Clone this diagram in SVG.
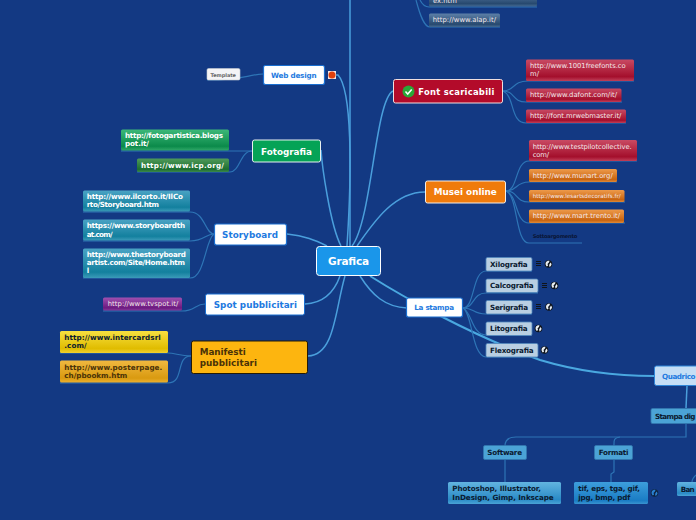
<svg xmlns="http://www.w3.org/2000/svg" width="696" height="520" viewBox="0 0 696 520">
<style>
text{font-family:"DejaVu Sans",sans-serif;font-weight:700}
.c1{fill:none;stroke:#4a9fdc;stroke-width:1.5}
.c2{fill:none;stroke:#2e75b6;stroke-width:1.2}
.c3{fill:none;stroke:#4aa8e0;stroke-width:2}
.url{font-size:6.8px;font-weight:400;fill:#f4e8ea}
.urlb{font-size:7.2px;fill:#fff}
.dark{font-size:7.2px;fill:#0a1a30}
.brn{font-size:7.2px;fill:#4a3208}
.blue{fill:#1e7ae0}
.w{fill:#fff;stroke:#1a6fd0;stroke-width:1.2}
.s{fill:#b9cfe2;stroke:#4f86bd;stroke-width:.8}
.b{fill:#4ba3d6;stroke:#3478b0;stroke-width:.8}
.li{stroke:#10151c;fill:none}
</style>
<defs>
<linearGradient id="r" x1="0" y1="0" x2="0" y2="1"><stop offset="0" stop-color="#c94a63"/><stop offset=".8" stop-color="#a40f2c"/><stop offset="1" stop-color="#c0405a"/></linearGradient>
<linearGradient id="o" x1="0" y1="0" x2="0" y2="1"><stop offset="0" stop-color="#ee9a4a"/><stop offset=".8" stop-color="#c9640f"/><stop offset="1" stop-color="#e08a3a"/></linearGradient>
<linearGradient id="g" x1="0" y1="0" x2="0" y2="1"><stop offset="0" stop-color="#3cb878"/><stop offset=".8" stop-color="#0b8a4a"/><stop offset="1" stop-color="#30a868"/></linearGradient>
<linearGradient id="dg" x1="0" y1="0" x2="0" y2="1"><stop offset="0" stop-color="#4f9a5a"/><stop offset=".8" stop-color="#1c6e30"/><stop offset="1" stop-color="#3c8a4c"/></linearGradient>
<linearGradient id="t" x1="0" y1="0" x2="0" y2="1"><stop offset="0" stop-color="#4aa3c4"/><stop offset=".8" stop-color="#13809e"/><stop offset="1" stop-color="#3b9ab8"/></linearGradient>
<linearGradient id="p" x1="0" y1="0" x2="0" y2="1"><stop offset="0" stop-color="#a050b0"/><stop offset=".8" stop-color="#6d1a80"/><stop offset="1" stop-color="#8a3a9a"/></linearGradient>
<linearGradient id="y" x1="0" y1="0" x2="0" y2="1"><stop offset="0" stop-color="#f7e040"/><stop offset=".8" stop-color="#e0bc00"/><stop offset="1" stop-color="#f0d030"/></linearGradient>
<linearGradient id="ye" x1="0" y1="0" x2="0" y2="1"><stop offset="0" stop-color="#f0b840"/><stop offset=".8" stop-color="#d99a10"/><stop offset="1" stop-color="#ecb030"/></linearGradient>
<linearGradient id="n" x1="0" y1="0" x2="0" y2="1"><stop offset="0" stop-color="#5d80a8"/><stop offset=".8" stop-color="#27496f"/><stop offset="1" stop-color="#446a92"/></linearGradient>
<linearGradient id="bb" x1="0" y1="0" x2="0" y2="1"><stop offset="0" stop-color="#62b4e0"/><stop offset=".8" stop-color="#2a8ac6"/><stop offset="1" stop-color="#4aa3d6"/></linearGradient>
<linearGradient id="bc" x1="0" y1="0" x2="0" y2="1"><stop offset="0" stop-color="#3d9edc"/><stop offset=".85" stop-color="#1a7cc4"/><stop offset="1" stop-color="#3a94d0"/></linearGradient>
<g id="gl"><circle r="3.800" fill="#10151c"/><path d="M-2.800-1.200C-2-3 0-3.400 1-3L.4-1.400-1 0-.4 1.400-1.600 2.600C-2.800 1.600-3.200 0-2.800-1.200zM2-1.600L3 0C3 1.400 2.200 2.400 1 3L.6 1 1.400-.4z" fill="#e8eef4"/></g>
<g id="glb"><circle r="3.800" fill="#0e2440"/><path d="M-2.800-1.200C-2-3 0-3.400 1-3L.4-1.400-1 0-.4 1.400-1.600 2.600C-2.800 1.600-3.200 0-2.800-1.200zM2-1.600L3 0C3 1.400 2.200 2.400 1 3L.6 1 1.400-.4z" fill="#2a80d0"/></g>
</defs>
<rect width="696" height="520" fill="#133983"/>
<g id="connectors">
<path class="c1" d="M350 246C350 180 350 90 350 0"/>
<path class="c1" d="M347 246C352 170 352 90 338 75H336"/>
<path class="c1" d="M352 246C372 220 375 100 393 91"/>
<path class="c1" d="M357 246C375 220 395 192 425 192"/>
<path class="c1" d="M341 246C330 225 322 165 321 150"/>
<path class="c1" d="M327 246C315 240 305 236 287 234"/>
<path class="c1" d="M340 276C335 290 325 303 305 304"/>
<path class="c1" d="M345 276C335 310 335 355 308 356"/>
<path class="c1" d="M360 276C372 295 385 307 407 308"/>
<path class="c3" d="M370 276C400 295 470 335 540 360C590 375 630 376 654 376"/>
<path class="c2" d="M263 74C245 75 245 80 207 80"/>
<path class="c2" d="M252 151H121"/>
<path class="c2" d="M252 151C240 151 240 172 230 172H137"/>
<path class="c2" d="M214 234C205 234 205 212 190 212H83"/>
<path class="c2" d="M214 234C205 234 205 241 190 241H83"/>
<path class="c2" d="M214 234C205 240 205 278 190 278H83"/>
<path class="c2" d="M205 304C195 304 195 311 182 311H103"/>
<path class="c2" d="M191 356C180 356 175 353 168 353H60"/>
<path class="c2" d="M191 356C175 356 185 383 168 383H60"/>
<path class="c2" d="M503 91C515 91 512 81 528 81H634"/>
<path class="c2" d="M503 91C515 91 512 102 526 102H622"/>
<path class="c2" d="M503 91C515 96 510 123 526 123H626"/>
<path class="c2" d="M506 191C518 191 515 161 529 161H637"/>
<path class="c2" d="M506 191C518 191 515 182 529 182H617"/>
<path class="c2" d="M506 191C518 191 515 202 529 202H625"/>
<path class="c2" d="M506 191C518 195 515 223 529 223H625"/>
<path class="c2" d="M506 191C518 195 515 243 529 243H582"/>
<path class="c2" d="M463 308C475 308 472 271 486 271H532"/>
<path class="c2" d="M463 308C475 308 472 293 486 293H538"/>
<path class="c2" d="M463 308C475 308 472 314 486 314H532"/>
<path class="c2" d="M463 308C472 312 472 335 486 335H532"/>
<path class="c2" d="M463 308C472 312 472 357 486 357H538"/>
<path class="c2" d="M420 0C422 4 424 7 429 7H537"/>
<path class="c2" d="M416 0C420 15 424 27 430 27H500"/>
<path class="c1" d="M687 386L686 408"/>
<path class="c2" d="M686 424V437H516C508 437 505 440 505 446"/>
<path class="c2" d="M620 437C613 438 614 441 614 446"/>
<path class="c2" d="M505 460V482"/>
<path class="c2" d="M614 460V472L611 474V482"/>
<path class="c2" d="M696 475C693 478 692 480 692 482"/>
</g>
<g id="n-grafica"><rect x="316.500" y="246.500" width="64" height="29" rx="3" fill="#1a96ea" stroke="#fff"/><text x="328" y="265" font-size="10.500" fill="#fff" textLength="41">Grafica</text></g>
<g id="n-web"><rect x="263.500" y="65.500" width="61" height="19" rx="2" class="w"/><text x="271" y="78" font-size="7.200" class="blue" textLength="45.500">Web design</text></g>
<g id="n-webicon"><rect x="328" y="71" width="8" height="8" fill="#f4e4e0"/><circle cx="332" cy="75" r="3.500" fill="#e0400c"/></g>
<g id="n-template"><rect x="207" y="68.500" width="33" height="11.500" rx="1.500" fill="#f4f4f6" stroke="#c8ccd4" stroke-width=".6"/><text x="210.500" y="76.500" font-size="5" fill="#666" textLength="25.500">Template</text></g>
<g id="n-fotografia"><rect x="252.500" y="140" width="68" height="22" rx="2" fill="#05a356" stroke="#e8f0f0"/><text x="261" y="154.500" font-size="8.800" fill="#fff" textLength="51">Fotografia</text></g>
<g id="n-foto1"><rect x="121" y="129.500" width="108" height="21" rx="1.500" fill="url(#g)"/><text class="urlb" x="125" y="137.700" textLength="98">http://fotogartistica.blogs</text><text class="urlb" x="125" y="146" textLength="24">pot.it/</text></g>
<g id="n-foto2"><rect x="137" y="158.500" width="92" height="13.500" rx="1.500" fill="url(#dg)"/><text class="urlb" x="141" y="167.700" textLength="83">http://www.icp.org/</text></g>
<g id="n-story"><rect x="214.500" y="224" width="72" height="21" rx="2" class="w"/><text x="222" y="238" font-size="8.800" class="blue" textLength="56">Storyboard</text></g>
<g id="n-story1"><rect x="83" y="190.500" width="107" height="21" rx="1.500" fill="url(#t)"/><text class="urlb" x="86.700" y="198.500" textLength="96.300">http://www.ilcorto.it/IlCo</text><text class="urlb" x="86.700" y="206.700" textLength="72.300">rto/Storyboard.htm</text></g>
<g id="n-story2"><rect x="83" y="219.500" width="107" height="21" rx="1.500" fill="url(#t)"/><text class="urlb" x="86.700" y="228" textLength="98.300">https://www.storyboardth</text><text class="urlb" x="86.700" y="236.700" textLength="26">at.com/</text></g>
<g id="n-story3"><rect x="83" y="248.500" width="107" height="29.500" rx="1.500" fill="url(#t)"/><text class="urlb" x="86.700" y="257" textLength="99.300">http://www.thestoryboard</text><text class="urlb" x="86.700" y="265" textLength="98.300">artist.com/Site/Home.htm</text><text class="urlb" x="86.700" y="272.700">l</text></g>
<g id="n-spot"><rect x="205.500" y="294" width="99" height="21" rx="2" fill="#fff" stroke="#1a6fd0" stroke-width="1"/><text x="213.700" y="308" font-size="8.800" class="blue" textLength="83.300">Spot pubblicitari</text></g>
<g id="n-tvspot"><rect x="103" y="297.500" width="79" height="13" rx="1.500" fill="url(#p)"/><text class="url" x="107.700" y="306" textLength="70.600">http://www.tvspot.it/</text></g>
<g id="n-manifesti"><rect x="191.500" y="341" width="116" height="32.500" rx="2" fill="#fdb50f" stroke="#231a05"/><text x="199.700" y="355" font-size="8.800" fill="#4a3208" textLength="46">Manifesti</text><text x="199.700" y="366" font-size="8.800" fill="#4a3208" textLength="57.300">pubblicitari</text></g>
<g id="n-man1"><rect x="60" y="331" width="108" height="22" rx="1.500" fill="url(#y)"/><text class="dark" x="64.300" y="340" textLength="96.400">http://www.intercardsrl</text><text class="dark" x="64.300" y="348.300" textLength="22.400">.com/</text></g>
<g id="n-man2"><rect x="60" y="360.500" width="108" height="22" rx="1.500" fill="url(#ye)"/><text class="brn" x="64.300" y="370" textLength="98">http://www.posterpage.</text><text class="brn" x="64.300" y="378" textLength="63">ch/pbookm.htm</text></g>
<g id="n-font"><rect x="393.500" y="79.500" width="109" height="23.500" rx="2" fill="#b30b2a" stroke="#f0e0e0"/><circle cx="408.500" cy="91.500" r="6" fill="#2aa838"/><path d="M405.500 91.500l2.200 2.500 4-4.500" fill="none" stroke="#fff" stroke-width="1.500"/><text x="418.300" y="94.700" font-size="8.400" fill="#fff" textLength="76">Font scaricabili</text></g>
<g id="n-font1"><rect x="526" y="59.500" width="108" height="21.500" rx="1.500" fill="url(#r)"/><text class="url" x="530" y="67.700" textLength="95.700">http://www.1001freefonts.co</text><text class="url" x="530" y="76.300" textLength="9">m/</text></g>
<g id="n-font2"><rect x="526" y="88.500" width="95.500" height="13.500" rx="1.500" fill="url(#r)"/><text class="url" x="530" y="97" textLength="87">http://www.dafont.com/it/</text></g>
<g id="n-font3"><rect x="526" y="109.500" width="100" height="13.500" rx="1.500" fill="url(#r)"/><text class="url" x="530" y="117.700" textLength="91.300">http://font.mrwebmaster.it/</text></g>
<g id="n-musei"><rect x="425.500" y="181" width="80" height="22" rx="2" fill="#f07b0c" stroke="#f4efe8"/><text x="433.700" y="195" font-size="8.800" fill="#fff" textLength="63">Musei online</text></g>
<g id="n-mus1"><rect x="529" y="140" width="108" height="21" rx="1.500" fill="url(#r)"/><text class="url" x="532.700" y="149" textLength="99">http://www.testpilotcollective.</text><text class="url" x="532.700" y="157" textLength="16.300">com/</text></g>
<g id="n-mus2"><rect x="529" y="169" width="88" height="13" rx="1.500" fill="url(#o)"/><text class="url" x="532.700" y="178.300" textLength="80">http://www.munart.org/</text></g>
<g id="n-mus3"><rect x="529" y="190" width="95.500" height="12" rx="1.500" fill="url(#o)"/><text class="url" x="532.700" y="198.300" style="font-size:5.600px" textLength="88">http://www.lesartsdecoratifs.fr/</text></g>
<g id="n-mus4"><rect x="529" y="209.500" width="95" height="13.500" rx="1.500" fill="url(#o)"/><text class="url" x="532.700" y="218.300" textLength="87.300">http://www.mart.trento.it/</text></g>
<g id="n-mus5"><text x="532.700" y="237.700" font-size="5.200" fill="#0a1535" textLength="44.600">Sottoargomento</text></g>
<g id="n-stampa"><rect x="406.500" y="298" width="56" height="19" rx="2" class="w"/><text x="414.300" y="310" font-size="7.200" class="blue" textLength="39.700">La stampa</text></g>
<g id="n-xilo"><rect x="486" y="257.500" width="46" height="13.500" rx="1.500" class="s"/><text x="490" y="266.700" class="dark" textLength="37.700">Xilografia</text><path class="li" d="M536 261.500h5M536 263.500h5M536 265.500h5"/><use href="#gl" x="548.500" y="264"/></g>
<g id="n-calco"><rect x="486" y="279" width="52" height="13.500" rx="1.500" class="s"/><text x="490" y="288" class="dark" textLength="43.700">Calcografia</text><path class="li" d="M542 283.500h5M542 285.500h5M542 287.500h5"/><use href="#gl" x="554.500" y="285.500"/></g>
<g id="n-seri"><rect x="486" y="300.500" width="46" height="13.500" rx="1.500" class="s"/><text x="490" y="309.700" class="dark" textLength="38">Serigrafia</text><path class="li" d="M536 304.500h5M536 306.500h5M536 308.500h5"/><use href="#gl" x="549" y="307"/></g>
<g id="n-lito"><rect x="486" y="322" width="46" height="13.500" rx="1.500" class="s"/><text x="490" y="331" class="dark" textLength="37.700">Litografia</text><use href="#gl" x="538.500" y="328.500"/></g>
<g id="n-flexo"><rect x="486" y="343.500" width="52" height="13.500" rx="1.500" class="s"/><text x="490" y="353" class="dark" textLength="43.700">Flexografia</text><use href="#gl" x="544.500" y="350"/></g>
<g id="n-quad"><rect x="654.500" y="366" width="60" height="19.500" rx="2" fill="#c5def5" stroke="#2f86d8"/><text x="662" y="379" font-size="7.200" class="blue" textLength="33.500">Quadrico</text></g>
<g id="n-alap"><rect x="429" y="13.500" width="71" height="13.500" rx="1.500" fill="url(#n)"/><text class="url" x="432.700" y="21.700" textLength="63.300">http://www.alap.it/</text></g>
<g id="n-exhtm"><rect x="429" y="-8" width="108" height="14.500" rx="1.500" fill="url(#n)"/><text class="url" x="433" y="2.500">ex.htm</text></g>
<g id="n-digitale"><rect x="651" y="408.500" width="60" height="15" rx="1.500" class="b"/><text x="655" y="418.500" class="dark" textLength="40.500">Stampa dig</text></g>
<g id="n-software"><rect x="483.500" y="445.500" width="43" height="14" rx="1.500" class="b"/><text x="487.300" y="455" class="dark" textLength="34.700">Software</text></g>
<g id="n-formati"><rect x="594.500" y="445.500" width="38" height="14" rx="1.500" class="b"/><text x="598.700" y="455" class="dark" textLength="29.700">Formati</text></g>
<g id="n-photoshop"><rect x="448" y="482" width="113" height="22" rx="1.500" fill="url(#bb)"/><text x="452.300" y="491" class="dark" textLength="88.700">Photoshop, Illustrator,</text><text x="452.300" y="500" class="dark" textLength="101.400">InDesign, Gimp, Inkscape</text></g>
<g id="n-tif"><rect x="574" y="482" width="74" height="22" rx="1.500" fill="url(#bc)"/><text x="578.300" y="491" class="dark" textLength="61.700">tif, eps, tga, gif,</text><text x="578.300" y="500" class="dark" textLength="52">jpg, bmp, pdf</text><use href="#glb" x="654.500" y="493"/></g>
<g id="n-banner"><rect x="677" y="482" width="30" height="14" rx="1.500" fill="url(#bb)"/><text x="680.700" y="491.500" class="dark" textLength="14">Ban</text></g>
</svg>
